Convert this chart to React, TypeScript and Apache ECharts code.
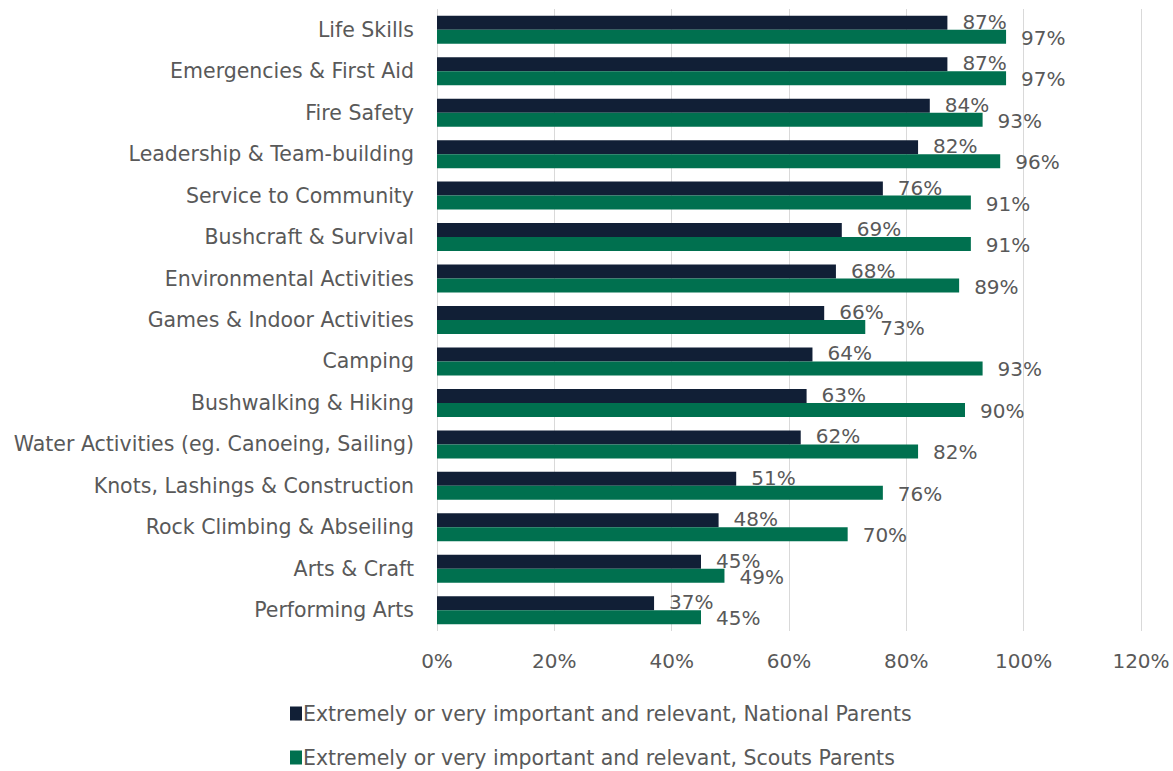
import React, { useEffect, useRef } from "react";
import * as echarts from "echarts";

const categories = [
  "Life Skills",
  "Emergencies & First Aid",
  "Fire Safety",
  "Leadership & Team-building",
  "Service to Community",
  "Bushcraft & Survival",
  "Environmental Activities",
  "Games & Indoor Activities",
  "Camping",
  "Bushwalking & Hiking",
  "Water Activities (eg. Canoeing, Sailing)",
  "Knots, Lashings & Construction",
  "Rock Climbing & Abseiling",
  "Arts & Craft",
  "Performing Arts",
];

const nationalParents = [87, 87, 84, 82, 76, 69, 68, 66, 64, 63, 62, 51, 48, 45, 37];
const scoutsParents = [97, 97, 93, 96, 91, 91, 89, 73, 93, 90, 82, 76, 70, 49, 45];

const seriesNames = [
  "Extremely or very important and relevant, National Parents",
  "Extremely or very important and relevant, Scouts Parents",
];

const FONT = "'DejaVu Sans', sans-serif";
const TEXT = "#595959";

export default function App() {
  const ref = useRef<HTMLDivElement>(null);
  useEffect(() => {
    if (!ref.current) return;
    const chart = echarts.init(ref.current, undefined, { renderer: "svg" });
    const labelCommon = {
      show: true,
      position: "right" as const,
      distance: 15,
      fontSize: 20,
      fontFamily: FONT,
      color: TEXT,
      formatter: (p: any) => `${Math.round(p.value)}%`,
    };
    const legendCommon = {
      orient: "horizontal",
      left: 285,
      itemWidth: 12,
      itemHeight: 14,
      icon: "rect",
      textStyle: { fontSize: 20.5, color: TEXT, fontFamily: FONT, padding: [0, 0, 0, -4] },
    };
    chart.setOption({
      animation: false,
      textStyle: { fontFamily: FONT },
      grid: { left: 437, right: 32, top: 9, bottom: 140, containLabel: false },
      legend: [
        { ...legendCommon, top: 698, data: [seriesNames[0]] },
        { ...legendCommon, top: 742, data: [seriesNames[1]] },
      ],
      xAxis: {
        type: "value",
        min: 0,
        max: 120,
        interval: 20,
        axisLabel: {
          formatter: "{value}%",
          fontSize: 20,
          color: TEXT,
          fontFamily: FONT,
          margin: 20,
        },
        axisLine: { show: false },
        axisTick: { show: false },
        splitLine: { lineStyle: { color: "#d9d9d9", width: 1 } },
      },
      yAxis: {
        type: "category",
        data: categories,
        inverse: true,
        axisLine: { show: false },
        axisTick: { show: false },
        axisLabel: { fontSize: 20.5, color: TEXT, fontFamily: FONT, margin: 23, padding: [0, 0, 7, 0] },
      },
      series: [
        {
          name: seriesNames[0],
          type: "bar",
          data: nationalParents,
          barWidth: 14,
          barGap: "0%",
          itemStyle: { color: "#111f36" },
          label: { ...labelCommon, offset: [0, -1] },
        },
        {
          name: seriesNames[1],
          type: "bar",
          data: scoutsParents,
          barWidth: 14,
          barGap: "0%",
          itemStyle: { color: "#00704f" },
          label: { ...labelCommon, offset: [0, 1] },
        },
      ],
    });
    return () => chart.dispose();
  }, []);
  return (
    <div
      ref={ref}
      style={{ position: "fixed", left: 0, top: 0, width: 1173, height: 771, background: "#fff" }}
    />
  );
}
